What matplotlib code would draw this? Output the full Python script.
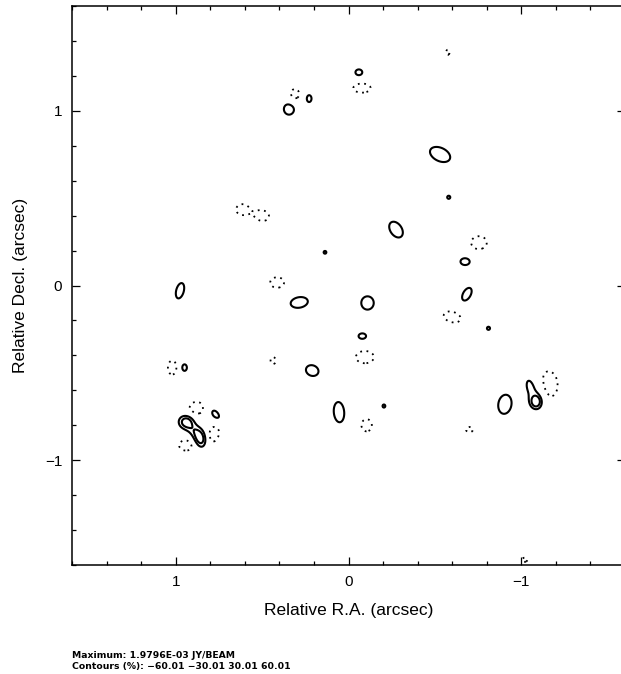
import numpy as np
import matplotlib.pyplot as plt
from matplotlib.ticker import MultipleLocator

# Components of the map (RA, Decl in arcsec), size of the 30% contour
# (semi-axes, arcsec), position angle on the page (deg) and peak (% of max)
comp_ra = [-0.53, -0.58, -0.275, -0.755, -0.675, -0.685, -0.60, -0.81,
           -0.905, -1.07, -1.085, -1.155, -0.70,
           -0.11, -0.08, -0.095, -0.205, 0.055, -0.105,
           0.285, 0.21, 0.413, 0.436, 0.136, 0.50, 0.615,
           0.975, 1.02, 0.95,
           0.94, 0.858, 0.90, 0.77, 0.875, 0.78, 0.94,
           0.31, 0.228, 0.344, -0.06, -0.078, -0.575, -1.02]
comp_dec = [0.75, 0.505, 0.32, 0.245, 0.137, -0.05, -0.18, -0.245,
            -0.68, -0.60, -0.665, -0.57, -0.825,
            -0.10, -0.29, -0.41, -0.69, -0.725, -0.80,
            -0.097, -0.487, 0.017, -0.43, 0.19, 0.40, 0.435,
            -0.03, -0.47, -0.47,
            -0.78, -0.877, -0.825, -0.74, -0.70, -0.85, -0.915,
            1.095, 1.07, 1.01, 1.22, 1.13, 1.335, -1.57]
comp_a = [0.062, 0.009, 0.05, 0.045, 0.027, 0.04, 0.05, 0.009,
          0.055, 0.085, 0.035, 0.08, 0.02,
          0.038, 0.022, 0.052, 0.009, 0.058, 0.035,
          0.05, 0.037, 0.04, 0.02, 0.008, 0.04, 0.035,
          0.045, 0.04, 0.02,
          0.042, 0.055, 0.025, 0.045, 0.045, 0.05, 0.04,
          0.03, 0.02, 0.032, 0.02, 0.05, 0.015, 0.015]
comp_b = [0.038, 0.009, 0.033, 0.037, 0.02, 0.022, 0.03, 0.009,
          0.038, 0.04, 0.03, 0.055, 0.015,
          0.036, 0.016, 0.035, 0.008, 0.03, 0.03,
          0.03, 0.03, 0.03, 0.015, 0.008, 0.03, 0.03,
          0.022, 0.025, 0.015,
          0.038, 0.038, 0.018, 0.022, 0.035, 0.03, 0.03,
          0.025, 0.014, 0.03, 0.017, 0.026, 0.01, 0.012]
comp_pa = [-25, 0, -55, 0, 0, 60, -15, 0,
           80, 110, 90, 90, 0,
           90, 0, 0, 90, 95, 90,
           10, -20, 0, 90, 0, -10, 0,
           75, 90, 90,
           0, -75, -47, -50, 0, 70, 0,
           90, 90, 90, 0, 0, 90, 0]
comp_peak = [45, 45, 45, -45, 45, 45, -45, 45,
             45, 50, 80, -45, -45,
             45, 45, -45, 45, 45, -45,
             45, 45, -45, -45, 45, -45, -45,
             45, -45, 45,
             80, 90, 38, 45, -45, -45, -45,
             -45, 45, 45, 45, -45, -45, -45]

levels = [-60.01, -30.01, 30.01, 60.01]

# Build the map from the components
g = np.linspace(-1.62, 1.62, 811)
X, Y = np.meshgrid(g, g)
field = np.zeros_like(X)
for r0, d0, a, b, pa, pk in zip(comp_ra, comp_dec, comp_a, comp_b, comp_pa, comp_peak):
    s = np.sqrt(2 * np.log(abs(pk) / 30.01))
    sa, sb = a / s, b / s
    dx = -(X - r0)  # RA increases to the left
    dy = Y - d0
    t = np.radians(pa)
    u = dx * np.cos(t) + dy * np.sin(t)
    v = -dx * np.sin(t) + dy * np.cos(t)
    field += pk * np.exp(-0.5 * ((u / sa) ** 2 + (v / sb) ** 2))

plt.rcParams['font.family'] = ['Liberation Sans', 'DejaVu Sans']

fig = plt.figure(figsize=(6.21, 6.74), dpi=100)
ax = fig.add_axes([72 / 621, 1 - 565 / 674, 553 / 621, 559 / 674])

dots = (0, (1, 2.5))
ax.contour(X, Y, field, levels=levels, colors='black',
           linewidths=[1.3, 1.3, 1.5, 1.5],
           linestyles=[dots, dots, 'solid', 'solid'])

ax.set_xlim(1.6, -1.6)
ax.set_ylim(-1.6, 1.6)
ax.xaxis.set_major_locator(MultipleLocator(1))
ax.yaxis.set_major_locator(MultipleLocator(1))
ax.xaxis.set_minor_locator(MultipleLocator(0.2))
ax.yaxis.set_minor_locator(MultipleLocator(0.2))
ax.tick_params(which='both', direction='in', top=True, right=True, width=0.9)
ax.tick_params(which='major', length=6, pad=7, labelsize=11)
ax.tick_params(which='minor', length=3)
for sp in ax.spines.values():
    sp.set_linewidth(1.1)

ax.set_xlabel('Relative R.A. (arcsec)', fontsize=12.5, labelpad=10)
ax.set_ylabel('Relative Decl. (arcsec)', fontsize=12.5, labelpad=12)

fig.text(72 / 621, 1 - 655 / 674, 'Maximum: 1.9796E-03 JY/BEAM',
         fontsize=6.7, fontweight='bold', family='DejaVu Sans', va='center')
fig.text(72 / 621, 1 - 666 / 674, 'Contours (%): \u221260.01 \u221230.01 30.01 60.01',
         fontsize=6.7, fontweight='bold', family='DejaVu Sans', va='center')

fig.savefig('out.png', dpi=100)
